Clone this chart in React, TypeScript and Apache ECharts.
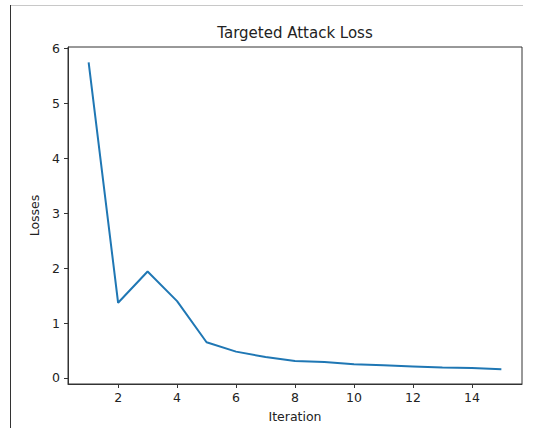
import React, { useEffect, useRef } from "react";
import * as echarts from "echarts";

const iterations = [1, 2, 3, 4, 5, 6, 7, 8, 9, 10, 11, 12, 13, 14, 15];
const losses = [5.75, 1.37, 1.94, 1.40, 0.65, 0.48, 0.38, 0.31, 0.29, 0.25, 0.23, 0.21, 0.19, 0.18, 0.16];
const xTicks = [2, 4, 6, 8, 10, 12, 14];
const yTicks = [0, 1, 2, 3, 4, 5, 6];

const FONT = "DejaVu Sans";

export default function App() {
  const ref = useRef<HTMLDivElement>(null);
  useEffect(() => {
    if (!ref.current) return;
    const chart = echarts.init(ref.current, null, { renderer: "svg" });
    const axisColor = "#333";
    chart.setOption({
      animation: false,
      backgroundColor: "#fff",
      grid: {
        left: 68,
        top: 47,
        right: 11,
        bottom: 44,
        show: true,
        borderColor: axisColor,
        borderWidth: 1,
      },
      xAxis: {
        type: "value",
        min: 0.3,
        max: 15.7,
        name: "Iteration",
        nameLocation: "middle",
        nameGap: 26,
        nameTextStyle: { fontFamily: FONT, fontSize: 12.5, color: "#222", verticalAlign: "top" },
        axisLine: { show: true, onZero: false, lineStyle: { color: axisColor, width: 1 } },
        axisTick: { show: true, length: 4, lineStyle: { color: axisColor }, customValues: xTicks },
        axisLabel: { fontFamily: FONT, fontSize: 12.5, color: "#222", margin: 7, customValues: xTicks },
        splitLine: { show: false },
      },
      yAxis: {
        type: "value",
        min: -0.11,
        max: 6.03,
        name: "Losses",
        nameLocation: "middle",
        nameGap: 23,
        nameTextStyle: { fontFamily: FONT, fontSize: 12.5, color: "#222" },
        axisLine: { show: true, onZero: false, lineStyle: { color: axisColor, width: 1 } },
        axisTick: { show: true, length: 4, lineStyle: { color: axisColor }, customValues: yTicks },
        axisLabel: { fontFamily: FONT, fontSize: 12.5, color: "#222", margin: 8, customValues: yTicks },
        splitLine: { show: false },
      },
      graphic: [
        {
          type: "text",
          x: 295,
          y: 33,
          style: {
            text: "Targeted Attack Loss",
            fontFamily: FONT,
            fontSize: 15,
            fill: "#222",
            textAlign: "center",
            textVerticalAlign: "middle",
          },
        },
        {
          type: "line",
          shape: { x1: 10, y1: 5.5, x2: 523, y2: 5.5 },
          style: { stroke: "#c8c8c8", lineWidth: 1 },
        },
        {
          type: "line",
          shape: { x1: 10.5, y1: 5, x2: 10.5, y2: 428 },
          style: { stroke: "#333", lineWidth: 1 },
        },
      ],
      series: [
        {
          type: "line",
          data: iterations.map((x, i) => [x, losses[i]]),
          showSymbol: false,
          symbol: "none",
          lineStyle: { color: "#1f77b4", width: 2 },
        },
      ],
    });
    return () => chart.dispose();
  }, []);
  return (
    <div
      ref={ref}
      style={{ position: "fixed", left: 0, top: 0, width: 533, height: 428, background: "#fff" }}
    />
  );
}
